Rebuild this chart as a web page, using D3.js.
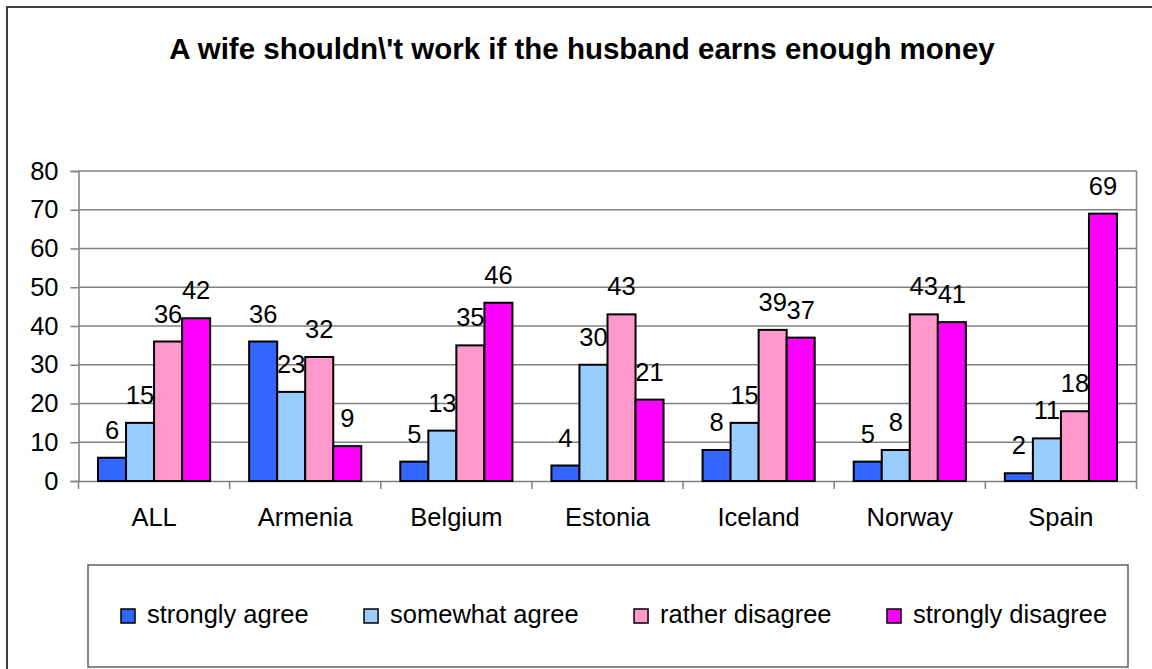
<!DOCTYPE html>
<html>
  <head>
    <meta charset="UTF-8">
    <title>A wife shouldn't work if the husband earns enough money</title>
    <script src="https://d3js.org/d3.v7.min.js"></script>
    <style>
      body { margin: 0; background: #fff; }
      text { font-family: "Liberation Sans", Arial, sans-serif; fill: #000; }
      .title { font-size: 29.5px; font-weight: bold; }
      .tick-label, .cat-label, .value-label, .legend-label { font-size: 25.5px; }
      .bar { stroke: #000; stroke-width: 2px; }
    </style>
  </head>
  <body>
    <div id="chart"></div>
    <script>
      // chart data
      const categories = ["ALL", "Armenia", "Belgium", "Estonia", "Iceland", "Norway", "Spain"];
      const seriesNames = ["strongly agree", "somewhat agree", "rather disagree", "strongly disagree"];
      const stronglyAgree = [6, 36, 5, 4, 8, 5, 2];
      const somewhatAgree = [15, 23, 13, 30, 15, 8, 11];
      const ratherDisagree = [36, 32, 35, 43, 39, 43, 18];
      const stronglyDisagree = [42, 9, 46, 21, 37, 41, 69];
      const yTicks = [0, 10, 20, 30, 40, 50, 60, 70, 80];
      const colors = ["#3366FF", "#99CCFF", "#FF99CC", "#FF00FF"];

      const seriesValues = [stronglyAgree, somewhatAgree, ratherDisagree, stronglyDisagree];

      const width = 1152;
      const height = 669;
      const plot = { left: 78.5, right: 1136.5, top: 171, bottom: 481 };

      const svg = d3.select("#chart")
        .append("svg")
        .attr("width", width)
        .attr("height", height);

      // outer frame (cut off at right and bottom in the reference)
      svg.append("rect")
        .attr("x", 7).attr("y", 7)
        .attr("width", 1160).attr("height", 680)
        .attr("fill", "none")
        .attr("stroke", "#404040")
        .attr("stroke-width", 2);

      svg.append("text")
        .attr("class", "title")
        .attr("x", 582)
        .attr("y", 59)
        .attr("text-anchor", "middle")
        .text("A wife shouldn\\'t work if the husband earns enough money");

      const x0 = d3.scaleBand()
        .domain(categories)
        .range([plot.left, plot.right])
        .padding(0);

      const x1 = d3.scaleBand()
        .domain(seriesNames)
        .range([19.5, x0.bandwidth() - 19.5])
        .padding(0);

      const y = d3.scaleLinear()
        .domain([0, 80])
        .range([plot.bottom, plot.top]);

      // gridlines
      svg.append("g")
        .selectAll("line")
        .data(yTicks.filter(d => d > 0))
        .join("line")
        .attr("x1", plot.left).attr("x2", plot.right)
        .attr("y1", d => y(d)).attr("y2", d => y(d))
        .attr("stroke", "#808080")
        .attr("stroke-width", 1.5);

      // plot area right border
      svg.append("line")
        .attr("x1", plot.right).attr("x2", plot.right)
        .attr("y1", plot.top).attr("y2", plot.bottom)
        .attr("stroke", "#808080")
        .attr("stroke-width", 1.5);

      // y axis
      const yAxis = svg.append("g")
        .attr("transform", `translate(${plot.left},0)`)
        .call(d3.axisLeft(y).tickValues(yTicks).tickSize(8).tickPadding(12));
      yAxis.select(".domain").attr("stroke", "#808080").attr("stroke-width", 1.5);
      yAxis.selectAll(".tick line").attr("stroke", "#808080").attr("stroke-width", 1.5);
      yAxis.selectAll(".tick text")
        .attr("class", "tick-label")
        .attr("font-size", null)
        .attr("font-family", null)
        .attr("fill", "#000");

      // x axis
      const xAxis = svg.append("g")
        .attr("transform", `translate(0,${plot.bottom})`)
        .call(d3.axisBottom(x0).tickSize(0).tickPadding(27));
      xAxis.select(".domain").attr("stroke", "#808080").attr("stroke-width", 1.5);
      xAxis.selectAll(".tick text")
        .attr("class", "cat-label")
        .attr("font-size", null)
        .attr("font-family", null)
        .attr("fill", "#000");

      // category separator ticks
      const sepTicks = categories.map(c => x0(c)).concat([plot.right]);
      svg.append("g")
        .selectAll("line")
        .data(sepTicks)
        .join("line")
        .attr("x1", d => d).attr("x2", d => d)
        .attr("y1", plot.bottom).attr("y2", plot.bottom + 8)
        .attr("stroke", "#808080")
        .attr("stroke-width", 1.5);

      // bars
      const groups = svg.append("g")
        .selectAll("g")
        .data(categories)
        .join("g")
        .attr("transform", c => `translate(${x0(c)},0)`);

      const barData = (c, ci) => seriesNames.map((s, si) => ({
        series: s, si: si, value: seriesValues[si][ci]
      }));

      groups.selectAll("rect")
        .data((c, ci) => barData(c, ci))
        .join("rect")
        .attr("class", "bar")
        .attr("x", d => x1(d.series))
        .attr("y", d => y(d.value))
        .attr("width", x1.bandwidth())
        .attr("height", d => y(0) - y(d.value))
        .attr("fill", d => colors[d.si]);

      groups.selectAll("text")
        .data((c, ci) => barData(c, ci))
        .join("text")
        .attr("class", "value-label")
        .attr("x", d => x1(d.series) + x1.bandwidth() / 2)
        .attr("y", d => y(d.value) - 19)
        .attr("text-anchor", "middle")
        .text(d => d.value);

      // legend
      const legendBox = { x: 88, y: 565, w: 1040, h: 102 };
      svg.append("rect")
        .attr("x", legendBox.x).attr("y", legendBox.y)
        .attr("width", legendBox.w).attr("height", legendBox.h)
        .attr("fill", "#fff")
        .attr("stroke", "#606060")
        .attr("stroke-width", 1.5);

      const legend = svg.append("g");
      const items = legend.selectAll("g")
        .data(seriesNames)
        .join("g");

      items.append("rect")
        .attr("width", 14)
        .attr("height", 14)
        .attr("y", -14)
        .attr("fill", (d, i) => colors[i])
        .attr("stroke", "#000")
        .attr("stroke-width", 1.5);

      items.append("text")
        .attr("class", "legend-label")
        .attr("x", 26)
        .attr("y", 0)
        .text(d => d);

      // spread items between first and last swatch positions
      const firstX = 121, lastX = 887;
      const widths = [];
      items.select("text").each(function() { widths.push(26 + this.getComputedTextLength()); });
      const gap = (lastX - firstX - d3.sum(widths.slice(0, 3))) / 3;
      let cx = firstX;
      items.attr("transform", (d, i) => {
        const t = `translate(${cx},623)`;
        cx += widths[i] + gap;
        return t;
      });
    </script>
  </body>
</html>
